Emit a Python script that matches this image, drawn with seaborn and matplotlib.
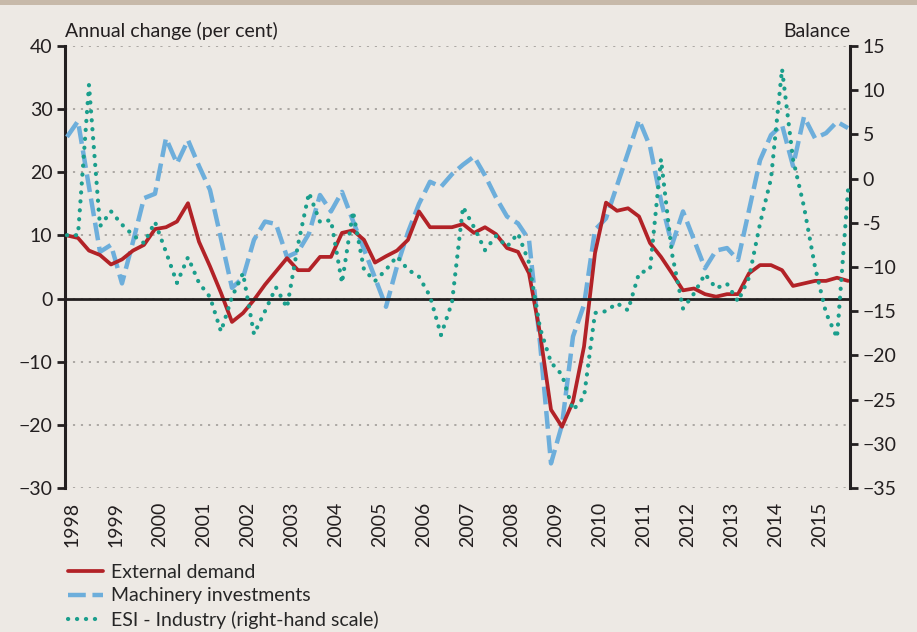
import matplotlib
matplotlib.use("Agg")
import matplotlib.pyplot as plt
import matplotlib.transforms as mtransforms
import seaborn as sns
import pandas as pd
from matplotlib.lines import Line2D
from matplotlib.patches import Rectangle

# Quarterly data, 1998Q1 - 2015Q4
years = ["1998", "1999", "2000", "2001", "2002", "2003", "2004", "2005", "2006",
         "2007", "2008", "2009", "2010", "2011", "2012", "2013", "2014", "2015"]

external_demand = [10.0, 9.6, 7.6, 6.9, 5.4, 6.2, 7.6, 8.5, 11.0, 11.3, 12.2, 15.1,
                   9.0, 5.1, 0.9, -3.7, -2.3, -0.2, 2.2, 4.3, 6.4, 4.5, 4.5, 6.6,
                   6.6, 10.4, 10.8, 9.3, 5.7, 6.7, 7.6, 9.3, 13.8, 11.3, 11.3, 11.3,
                   11.8, 10.4, 11.3, 10.2, 8.0, 7.4, 4.0, -5.5, -17.6, -20.3, -16.3, -7.6,
                   7.2, 15.2, 13.9, 14.3, 13.0, 8.8, 6.6, 4.0, 1.3, 1.6, 0.7, 0.3,
                   0.7, 0.7, 4.0, 5.3, 5.3, 4.5, 2.0, 2.4, 2.8, 2.8, 3.3, 2.8]

machinery = [25.6, 28.1, 17.7, 7.4, 8.5, 2.4, 9.0, 15.9, 16.6, 25.4, 21.4, 25.1,
             21.0, 17.2, 9.5, 1.7, 3.3, 9.3, 12.2, 11.8, 6.6, 7.4, 10.3, 16.4,
             13.8, 16.9, 12.3, 7.8, 3.3, -1.3, 5.1, 10.5, 15.0, 18.5, 17.7, 19.7,
             21.2, 22.5, 19.5, 16.0, 13.0, 11.9, 9.3, -7.0, -26.1, -20.0, -6.0, -1.0,
             10.9, 12.7, 17.9, 23.1, 28.3, 24.1, 15.5, 8.5, 13.8, 9.3, 4.8, 7.6,
             8.0, 6.1, 14.0, 21.9, 25.9, 27.5, 21.0, 28.8, 25.4, 26.2, 28.0, 27.0]

esi_industry = [-6.4, -6.4, 10.6, -5.4, -3.7, -5.2, -6.4, -7.3, -4.9, -8.3, -11.8, -8.9,
                -11.8, -13.4, -17.3, -13.4, -10.7, -17.6, -15.0, -12.3, -14.6, -7.5, -1.6, -4.9,
                -4.7, -11.8, -3.7, -10.3, -11.6, -10.3, -8.8, -10.3, -11.1, -13.3, -17.7, -14.0,
                -3.2, -5.5, -8.1, -6.5, -7.7, -6.2, -9.5, -16.9, -20.8, -22.2, -26.2, -24.7,
                -15.2, -15.0, -14.1, -14.9, -10.7, -10.3, 2.2, -8.5, -14.7, -13.0, -10.8, -12.4,
                -11.9, -13.9, -11.2, -5.1, 0.0, 12.4, 2.2, -3.2, -10.0, -15.2, -18.0, -1.3]

labels = ["External demand", "Machinery investments", "ESI - Industry (right-hand scale)"]

df = pd.DataFrame({"q": range(len(external_demand)),
                   "ext": external_demand, "mach": machinery, "esi": esi_industry})

BG = "#ede9e4"
RED = "#b22227"
BLUE = "#6daedb"
GREEN = "#1a9e8c"
DARK = "#231f20"
FS = 14

RED_KW = dict(color=RED, lw=2.7)
BLUE_KW = dict(color=BLUE, lw=3.2, linestyle=(0, (4.0, 1.5)))
GREEN_KW = dict(color=GREEN, lw=3.0, linestyle=(0, (0.05, 2.1)), dash_capstyle="round")

sns.set_theme(style="white")
plt.rcParams["font.family"] = ["Lato", "DejaVu Sans"]

fig = plt.figure(figsize=(9.17, 6.32), dpi=100, facecolor=BG)
fig.patches.append(Rectangle((0, 1 - 5 / 632), 1, 5 / 632, transform=fig.transFigure,
                             facecolor="#c7b9a9", edgecolor="none", zorder=0))

ax = fig.add_axes([65 / 917, 1 - 488 / 632, 785 / 917, 442 / 632])
ax.set_facecolor(BG)
ax2 = ax.twinx()

sns.lineplot(data=df, x="q", y="ext", ax=ax, zorder=4, **RED_KW)
sns.lineplot(data=df, x="q", y="mach", ax=ax, zorder=3, **BLUE_KW)
sns.lineplot(data=df, x="q", y="esi", ax=ax2, zorder=3, **GREEN_KW)

ax.set_ylim(-30, 40)
ax2.set_ylim(-35, 15)
ax.set_xlim(-0.18, len(external_demand) - 1 + 0.18)
ax.set_yticks(range(-30, 41, 10))
ax2.set_yticks(range(-35, 16, 5))
ax.set_xticks(range(0, len(external_demand), 4))
ax.set_xticklabels(years, rotation=90)

ax.yaxis.grid(True, color="#a7a39f", linestyle=(0, (1.2, 3.2)), lw=1.3)
ax.xaxis.grid(False)
ax2.grid(False)
ax.axhline(0, color=DARK, lw=2.0, zorder=5)

for a in (ax, ax2):
    for s in ("top", "bottom"):
        a.spines[s].set_visible(False)
    a.set_xlabel("")
    a.set_ylabel("")
ax.spines["left"].set_color(DARK)
ax.spines["left"].set_linewidth(2.2)
ax.spines["right"].set_visible(False)
ax2.spines["left"].set_visible(False)
ax2.spines["right"].set_color(DARK)
ax2.spines["right"].set_linewidth(2.2)

ax.tick_params(axis="y", direction="out", length=6, width=2, color=DARK,
               labelsize=FS, labelcolor=DARK, pad=3, left=True)
ax2.tick_params(axis="y", direction="out", length=6, width=2, color=DARK,
                labelsize=FS, labelcolor=DARK, pad=3, right=True)
ax.tick_params(axis="x", length=0, labelsize=FS, labelcolor=DARK, pad=10)

ax.set_yticklabels([f"\u2212{abs(v)}" if v < 0 else str(v) for v in range(-30, 41, 10)])
ax2.set_yticklabels([f"\u2212{abs(v)}" if v < -5 else str(v) for v in range(-35, 16, 5)])

# shift year labels slightly right, as in the reference
offset = mtransforms.ScaledTranslation(5 / 100, 0, fig.dpi_scale_trans)
for lab in ax.get_xticklabels():
    lab.set_transform(lab.get_transform() + offset)

fig.text(65 / 917, 1 - 37 / 632, "Annual change (per cent)", fontsize=FS,
         color=DARK, ha="left", va="baseline")
fig.text(850 / 917, 1 - 37 / 632, "Balance", fontsize=FS,
         color=DARK, ha="right", va="baseline")

handles = [Line2D([], [], **RED_KW), Line2D([], [], **BLUE_KW), Line2D([], [], **GREEN_KW)]
fig.legend(handles, labels, loc="upper left", bbox_to_anchor=(64 / 917, 1 - 560 / 632),
           frameon=False, fontsize=FS, handlelength=1.8, handletextpad=0.4,
           labelspacing=0.33, borderaxespad=0, borderpad=0.2)

fig.savefig("out.png", dpi=100, facecolor=BG)
